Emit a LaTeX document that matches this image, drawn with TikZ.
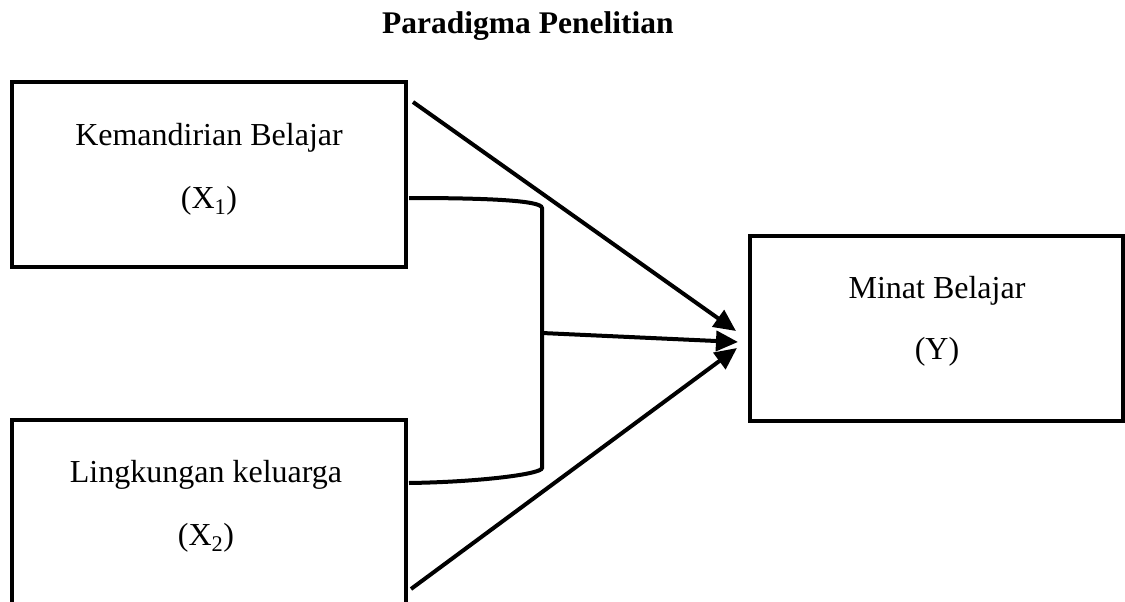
\documentclass[tikz,border=0pt]{standalone}
\usepackage{fontspec}
\setmainfont{Liberation Serif}
\usetikzlibrary{arrows.meta}
\tikzset{
  box/.style={draw, rectangle, line width=4pt, inner sep=0pt},
  txt/.style={anchor=base, font=\fontsize{32}{38}\selectfont},
  conn/.style={line width=4pt},
  arr/.style={line width=4pt, -{Triangle[length=22pt,width=20pt]}},
}
\begin{document}
\begin{tikzpicture}[x=1pt,y=-1pt]
\clip (0,0) rectangle (1125,602);
\node[txt, anchor=base west, inner xsep=0pt, font=\bfseries\fontsize{31.5}{36}\selectfont] (title) at (382,34){Paradigma Penelitian};

\node[box, minimum width=394pt, minimum height=185pt] (kemandirian) at (209,174.5){};
\node[box, minimum width=394pt, minimum height=185pt] (lingkungan) at (208.5,512.5){};
\node[box, minimum width=373pt, minimum height=185pt] (minat) at (936.5,328.5){};

\node[txt] (kmtxt) at (209,145){Kemandirian Belajar};
\node[txt] (xone) at (209,208){(X\textsubscript{1})};
\node[txt] (lgtxt) at (206,482){Lingkungan keluarga};
\node[txt] (xtwo) at (206,545){(X\textsubscript{2})};
\node[txt] (mntxt) at (937,298){Minat Belajar};
\node[txt] (yvar) at (937,359){(Y)};

\coordinate (top0) at (413,102);
\coordinate (top1) at (736,331);
\coordinate (brA) at (409,198);
\coordinate (brB) at (542,208);
\coordinate (brC) at (542,468);
\coordinate (brD) at (409,483);
\coordinate (mid0) at (542,333);
\coordinate (mid1) at (738,342);
\coordinate (bot0) at (411,589);
\coordinate (bot1) at (737,348);

\draw[arr](top0) -- (top1);
\draw[conn](brA) .. controls (480,198) and (542,200) .. (brB) -- (brC) .. controls (542,474) and (480,482) .. (brD);
\draw[arr](mid0) -- (mid1);
\draw[arr](bot0) -- (bot1);

\end{tikzpicture}
\end{document}
